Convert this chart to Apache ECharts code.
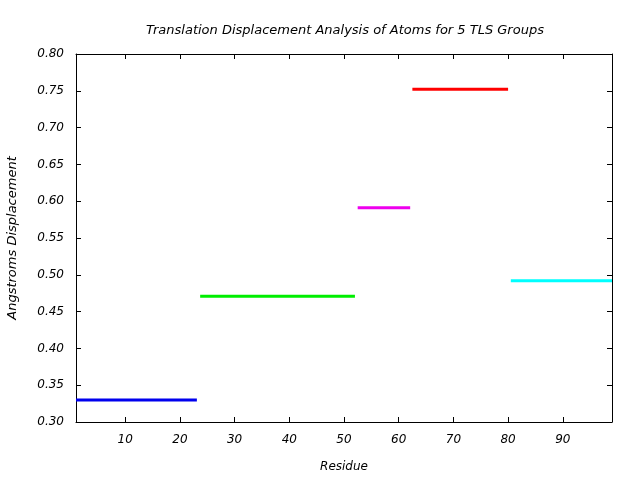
<!DOCTYPE html>
<html>
<head>
<meta charset="utf-8">
<script src="https://cdn.jsdelivr.net/npm/echarts@6/dist/echarts.min.js"></script>
<style>html,body{margin:0;padding:0;background:#fff}#c{width:640px;height:480px}</style>
</head>
<body>
<div id="c"></div>
<script>
var groupNames = ['Group 1', 'Group 2', 'Group 3', 'Group 4', 'Group 5'];
var groupStart = [1, 23.7, 52.5, 62.5, 80.5];
var groupEnd = [23.1, 52, 62.1, 80, 99];
var groupValue = [0.330, 0.471, 0.591, 0.752, 0.492];
var groupColors = ['#0000ee', '#00ee00', '#ee00ee', '#ff0000', '#00ffff'];

var FONT = 'DejaVu Sans';
var chart = echarts.init(document.getElementById('c'));
var series = groupNames.map(function (n, i) {
  return {
    name: n, type: 'line', xAxisIndex: 0, yAxisIndex: 0,
    data: [[groupStart[i], groupValue[i]], [groupEnd[i], groupValue[i]]],
    showSymbol: false, symbol: 'none', animation: false,
    lineStyle: { color: groupColors[i], width: 3, cap: 'butt' }
  };
});
var axisCommon = {
  axisLine: { show: true, lineStyle: { color: '#000', width: 1 } },
  axisTick: { show: true, inside: true, length: 5, lineStyle: { color: '#000' } },
  splitLine: { show: false }
};
chart.setOption({
  animation: false,
  title: {
    text: 'Translation Displacement Analysis of Atoms for 5 TLS Groups',
    left: 340, top: 19, textAlign: 'center',
    textStyle: { fontFamily: FONT, fontStyle: 'italic', fontWeight: 'normal', fontSize: 13, color: '#000' }
  },
  grid: { left: 76, right: 28, top: 54, bottom: 58, containLabel: false, outerBoundsMode: 'none' },
  xAxis: [
    Object.assign({
      type: 'value', min: 1, max: 99, splitNumber: 10, minInterval: 10, maxInterval: 10,
      name: 'Residue', nameLocation: 'middle', nameGap: 39,
      nameTextStyle: { fontFamily: FONT, fontStyle: 'italic', fontSize: 12, color: '#000' },
      axisLabel: { showMinLabel: false, showMaxLabel: false, margin: 12,
        fontFamily: FONT, fontStyle: 'italic', fontSize: 12, color: '#000' }
    }, axisCommon),
    Object.assign({
      type: 'value', min: 1, max: 99, splitNumber: 10, minInterval: 10, maxInterval: 10,
      position: 'top', axisLabel: { show: false }
    }, axisCommon)
  ],
  yAxis: [
    Object.assign({
      type: 'value', min: 0.3, max: 0.8, interval: 0.05,
      name: 'Angstroms Displacement', nameLocation: 'middle', nameGap: 57,
      nameTextStyle: { fontFamily: FONT, fontStyle: 'italic', fontSize: 13, color: '#000' },
      axisLabel: { margin: 12, fontFamily: FONT, fontStyle: 'italic', fontSize: 12, color: '#000',
        formatter: function (v) { return v.toFixed(2); } }
    }, axisCommon),
    Object.assign({
      type: 'value', min: 0.3, max: 0.8, interval: 0.05, position: 'right',
      axisLabel: { show: false }
    }, axisCommon)
  ],
  series: series
});
</script>
</body>
</html>
